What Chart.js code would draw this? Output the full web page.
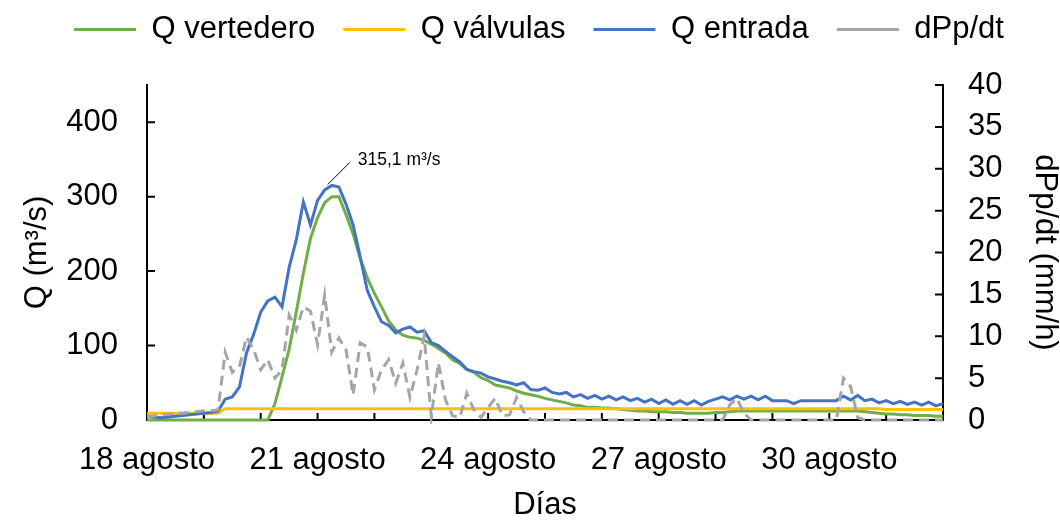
<!DOCTYPE html>
<html lang="es">
<head>
<meta charset="utf-8">
<title>Caudales y dPp/dt</title>
<script src="https://cdn.jsdelivr.net/npm/chart.js@4.4.1/dist/chart.umd.min.js"></script>
<style>
  html, body { margin: 0; padding: 0; background: #fff; }
  #wrap { width: 1060px; height: 521px; }
</style>
</head>
<body>
<div id="wrap"><canvas id="chart" width="1060" height="521"></canvas></div>
<script>
// Series sampled every 3 hours starting 18 agosto 00:00 (one row per day)
const stepDays = 0.125;

const dayLabels = ['18 agosto', '21 agosto', '24 agosto', '27 agosto', '30 agosto'];

const qVertedero = [
  0, 0, 0, 0, 0, 0, 0, 0,
  0, 0, 0, 0, 0, 0, 0, 0,
  0, 0, 22, 58, 95, 145, 197, 244,
  272, 292, 300, 300, 276, 250, 217, 191,
  170, 152, 133, 121, 114, 111, 110, 107,
  102, 96, 90, 81, 76, 68, 64, 57,
  53, 47, 45, 43, 39, 36, 34, 32,
  29, 27, 25, 23, 20, 19, 17, 17,
  16, 16, 15, 14, 13, 12, 12, 11,
  11, 11, 10, 10, 9, 9, 9, 9,
  10, 10, 11, 12, 12, 12, 12, 12,
  12, 12, 12, 12, 12, 12, 12, 12,
  12, 12, 12, 12, 12, 11, 10, 9,
  8, 8, 7, 7, 6, 6, 6, 5,
  5
];

const qValvulas = [
  9, 9, 9, 9, 9, 9, 9, 9,
  9, 9, 9, 15, 15, 15, 15, 15,
  15, 15, 15, 15, 15, 15, 15, 15,
  15, 15, 15, 15, 15, 15, 15, 15,
  15, 15, 15, 15, 15, 15, 15, 15,
  15, 15, 15, 15, 15, 15, 15, 15,
  15, 15, 15, 15, 15, 15, 15, 15,
  15, 15, 15, 15, 15, 15, 15, 15,
  15, 15, 15, 15, 15, 15, 15, 15,
  15, 15, 15, 15, 15, 15, 15, 15,
  15, 15, 15, 15, 15, 15, 15, 15,
  15, 15, 15, 15, 15, 15, 15, 15,
  15, 15, 15, 15, 15, 15, 15, 15,
  14, 14, 14, 14, 14, 14, 14, 14,
  14
];

const qEntrada = [
  5, 4, 3, 4, 5, 6, 7, 8,
  9, 10, 12, 28, 31, 44, 90, 115,
  145, 160, 165, 152, 205, 242, 293, 262,
  295, 309, 315.1, 313, 290, 262, 219, 174,
  152, 132, 127, 117, 122, 125, 118, 120,
  104, 100, 92, 85, 78, 68, 65, 63,
  58, 55, 52, 50, 47, 50, 41, 40,
  43, 37, 35, 37, 31, 34, 29, 33,
  28, 32, 27, 31, 26, 29, 24, 28,
  22, 27, 21, 26, 21, 26, 20, 25,
  28, 31, 27, 32, 28, 32, 27, 32,
  26, 26, 26, 22, 26, 26, 26, 26,
  26, 26, 32, 27, 33, 26, 28, 23,
  26, 22, 25, 21, 24, 20, 24, 19,
  22
];

const dPpdt = [
  0.4, 0.5, 0.6, 0.7, 0.8, 0.8, 0.9, 1.0,
  1.1, 1.1, 1.2, 8.1, 5.7, 6.3, 9.9, 8.4,
  6.0, 7.2, 5.0, 6.0, 12.5, 10.7, 13.5, 13.0,
  9.0, 14.9, 8.1, 9.8, 8.4, 3.0, 9.2, 8.7,
  3.6, 6.0, 7.2, 4.4, 6.8, 2.7, 6.0, 10.0,
  0.4, 6.8, 2.4, 0.5, 0.3, 3.2, 1.2, 0.3,
  1.5, 2.6, 0.5, 0.6, 2.7, 1.0, 0, 0,
  0, 0, 0, 0, 0, 0, 0, 0,
  0, 0, 0, 0, 0, 0, 0, 0,
  0, 0, 0, 0, 0, 0, 0, 0,
  0, 0, 1.8, 2.6, 0.8, 0, 0, 0,
  0, 0, 0, 0, 0, 0, 0, 0,
  0, 0, 5.0, 4.0, 0.3, 0, 0, 0,
  0, 0, 0, 0, 0, 0, 0, 0,
  0
];

const fontFamily = '"Liberation Sans", Arial, sans-serif';
const tickFont = { family: fontFamily, size: 31 };
const titleFont = { family: fontFamily, size: 31, lineHeight: 1 };

const toPoints = arr => arr.map((v, i) => ({ x: i * stepDays, y: v }));

// Excel-style tick marks pointing into the plot area
const innerTicks = {
  id: 'innerTicks',
  beforeDatasetsDraw(chart) {
    const { ctx, scales: { x, y, y2 } } = chart;
    ctx.save();
    ctx.strokeStyle = '#000';
    ctx.lineWidth = 2;
    ctx.beginPath();
    x.ticks.forEach(t => {
      const px = x.getPixelForValue(t.value);
      ctx.moveTo(px, x.top);
      ctx.lineTo(px, x.top - 7);
    });
    y.ticks.forEach(t => {
      const py = y.getPixelForValue(t.value);
      ctx.moveTo(y.right, py);
      ctx.lineTo(y.right + 8, py);
    });
    y2.ticks.forEach(t => {
      const py = y2.getPixelForValue(t.value);
      ctx.moveTo(y2.left, py);
      ctx.lineTo(y2.left - 8, py);
    });
    ctx.stroke();
    ctx.restore();
  }
};

// Leader line and value label on the inflow peak
const peakLabel = {
  id: 'peakLabel',
  afterDatasetsDraw(chart) {
    const idx = qEntrada.indexOf(Math.max(...qEntrada));
    const pt = chart.getDatasetMeta(2).data[idx];
    const { ctx } = chart;
    ctx.save();
    ctx.strokeStyle = '#000';
    ctx.lineWidth = 1;
    ctx.beginPath();
    ctx.moveTo(pt.x - 4, pt.y - 1);
    ctx.lineTo(pt.x + 18, pt.y - 23);
    ctx.stroke();
    ctx.font = '17.5px ' + fontFamily;
    ctx.fillStyle = '#000';
    ctx.textAlign = 'left';
    ctx.textBaseline = 'middle';
    ctx.fillText(qEntrada[idx].toFixed(1).replace('.', ',') + ' m\u00b3/s', pt.x + 26, pt.y - 25);
    ctx.restore();
  }
};

// Reserve a fixed band above the plot for the legend
const legendSpace = {
  id: 'legendSpace',
  beforeInit(chart) {
    const fit = chart.legend.fit;
    chart.legend.fit = function () {
      fit.call(this);
      this.height = 99;
    };
  }
};

new Chart(document.getElementById('chart'), {
  type: 'line',
  data: {
    datasets: [
      {
        label: 'Q vertedero',
        data: toPoints(qVertedero),
        yAxisID: 'y',
        borderColor: '#70AD47',
        borderWidth: 3,
        order: 4
      },
      {
        label: 'Q válvulas',
        data: toPoints(qValvulas),
        yAxisID: 'y',
        borderColor: '#FFC000',
        borderWidth: 3,
        order: 3
      },
      {
        label: 'Q entrada',
        data: toPoints(qEntrada),
        yAxisID: 'y',
        borderColor: '#4472C4',
        borderWidth: 3,
        order: 2
      },
      {
        label: 'dPp/dt',
        data: toPoints(dPpdt),
        yAxisID: 'y2',
        borderColor: '#A5A5A5',
        borderWidth: 3,
        borderDash: [10, 6],
        order: 1
      }
    ]
  },
  options: {
    responsive: false,
    animation: false,
    events: [],
    devicePixelRatio: 1,
    layout: { padding: { top: -14, left: 18, right: 0, bottom: 0 } },
    elements: {
      point: { radius: 0 },
      line: { tension: 0, fill: false }
    },
    datasets: { line: { clip: 4 } },
    plugins: {
      tooltip: { enabled: false },
      legend: {
        position: 'top',
        labels: {
          color: '#000',
          font: { family: fontFamily, size: 31 },
          usePointStyle: true,
          pointStyleWidth: 62,
          pointStyle: 'line',
          padding: 28,
          sort: (a, b) => a.datasetIndex - b.datasetIndex
        }
      }
    },
    scales: {
      x: {
        type: 'linear',
        min: 0,
        max: 14,
        border: { color: '#000', width: 2 },
        grid: { drawOnChartArea: false, drawTicks: false },
        ticks: {
          stepSize: 1,
          autoSkip: false,
          maxRotation: 0,
          padding: 22,
          color: '#000',
          font: tickFont,
          callback: v => (v % 3 === 0 ? dayLabels[v / 3] : '')
        },
        title: { display: true, text: 'Días', color: '#000', font: titleFont, padding: 0 },
        afterFit: s => { s.height = 101; }
      },
      y: {
        position: 'left',
        min: 0,
        max: 450,
        border: { color: '#000', width: 2 },
        grid: { drawOnChartArea: false, drawTicks: false },
        ticks: { stepSize: 100, padding: 29, color: '#000', font: tickFont },
        afterBuildTicks: s => { s.ticks = s.ticks.filter(t => t.value % 100 === 0); },
        title: { display: true, text: 'Q (m\u00b3/s)', color: '#000', font: titleFont, padding: { top: 4 } },
        afterFit: s => { s.width = 129; }
      },
      y2: {
        position: 'right',
        min: 0,
        max: 40,
        border: { color: '#000', width: 2 },
        grid: { drawOnChartArea: false, drawTicks: false },
        ticks: { stepSize: 5, padding: 25, color: '#000', font: tickFont },
        title: { display: true, text: 'dPp/dt (mm/h)', color: '#000', font: titleFont, padding: 0 },
        afterFit: s => { s.width = 117; }
      }
    }
  },
  plugins: [innerTicks, peakLabel, legendSpace]
});
</script>
</body>
</html>
